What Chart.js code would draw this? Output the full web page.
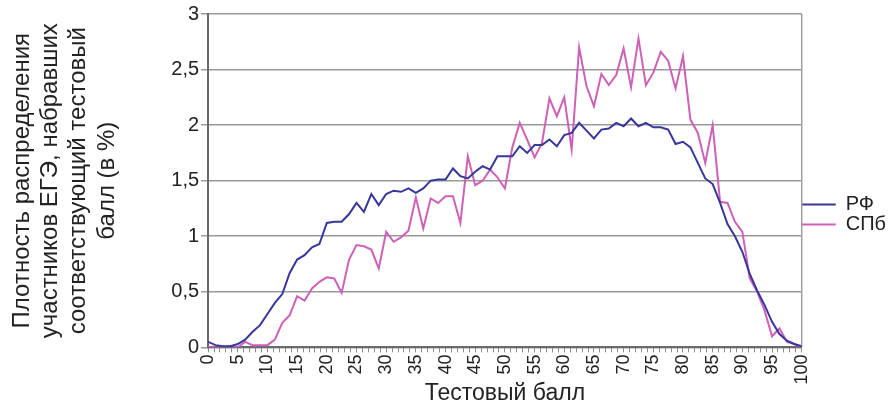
<!DOCTYPE html>
<html>
<head>
<meta charset="utf-8">
<script src="https://cdn.jsdelivr.net/npm/chart.js@4.4.1/dist/chart.umd.min.js"></script>
<style>
  body { margin: 0; background: #fff; }
  #wrap { width: 896px; height: 407px; }
</style>
</head>
<body>
<div id="wrap"><canvas id="densityChart"></canvas></div>
<script>
// test score positions (x) shared by both series
const scores = [0, 1.25, 2.5, 3.75, 5, 6.25, 7.5, 8.75, 10, 11.25, 12.5, 13.75, 15, 16.25, 17.5, 18.75,
    20, 21.25, 22.5, 23.75, 25, 26.25, 27.5, 28.75, 30, 31.25, 32.5, 33.75, 35, 36.25, 37.5, 38.75,
    40, 41.25, 42.5, 43.75, 45, 46.25, 47.5, 48.75, 50, 51.25, 52.5, 53.75, 55, 56.25, 57.5, 58.75,
    60, 61.25, 62.5, 63.75, 65, 66.25, 67.5, 68.75, 70, 71.25, 72.5, 73.75, 75, 76.25, 77.5, 78.75,
    80, 81.25, 82.5, 83.75, 85, 86.25, 87.5, 88.75, 90, 91.25, 92.5, 93.75, 95, 96.25, 97.5, 98.75, 100];

const rfValues = [0.05, 0.02, 0.01, 0.01, 0.03, 0.07, 0.14, 0.2, 0.3, 0.4,
    0.48, 0.67, 0.79, 0.83, 0.9, 0.93, 1.12, 1.13, 1.13, 1.2,
    1.3, 1.22, 1.38, 1.28, 1.38, 1.41, 1.4, 1.43, 1.39, 1.43,
    1.5, 1.51, 1.51, 1.61, 1.54, 1.52, 1.58, 1.63, 1.6, 1.72,
    1.72, 1.72, 1.81, 1.75, 1.82, 1.82, 1.87, 1.81, 1.91, 1.93,
    2.02, 1.95, 1.88, 1.96, 1.97, 2.02, 1.99, 2.06, 1.99, 2.02,
    1.98, 1.98, 1.96, 1.83, 1.85, 1.8, 1.66, 1.52, 1.47, 1.3,
    1.11, 1.0, 0.86, 0.66, 0.51, 0.38, 0.23, 0.12, 0.06, 0.03, 0.01];

const spbValues = [0, 0, 0, 0.01, 0, 0.05, 0.02, 0.02, 0.02, 0.07,
    0.22, 0.29, 0.46, 0.42, 0.53, 0.59, 0.63, 0.62, 0.49, 0.79,
    0.92, 0.91, 0.88, 0.71, 1.04, 0.95, 0.99, 1.05, 1.35, 1.07,
    1.34, 1.3, 1.36, 1.36, 1.12, 1.72, 1.46, 1.5, 1.6, 1.53,
    1.43, 1.8, 2.02, 1.87, 1.71, 1.84, 2.24, 2.08, 2.25, 1.78,
    2.7, 2.35, 2.17, 2.46, 2.36, 2.45, 2.69, 2.34, 2.78, 2.36,
    2.47, 2.66, 2.58, 2.33, 2.62, 2.05, 1.93, 1.66, 2.0, 1.31,
    1.3, 1.13, 1.04, 0.62, 0.5, 0.33, 0.1, 0.17, 0.05, 0.03, 0];

const seriesNames = ['РФ', 'СПб'];
const yTitle = ['Плотность распределения', 'участников ЕГЭ, набравших', 'соответствующий тестовый', 'балл (в %)'];
const xTitle = 'Тестовый балл';

const textColor = '#222';
const fontFamily = '"Liberation Sans", Arial, sans-serif';

// gray frame line on the right side of the plot
const plotBorder = {
    id: 'plotBorder',
    beforeDatasetsDraw(chart) {
        const { ctx, chartArea: a } = chart;
        ctx.save();
        ctx.strokeStyle = '#a0a0a0';
        ctx.lineWidth = 1.5;
        ctx.beginPath();
        ctx.moveTo(a.right, a.top);
        ctx.lineTo(a.right, a.bottom);
        ctx.stroke();
        ctx.restore();
    }
};

const ctx = document.getElementById('densityChart').getContext('2d');
const densityChart = new Chart(ctx, {
    type: 'line',
    data: {
        datasets: [{
            label: seriesNames[0],
            data: scores.map((s, i) => ({ x: s, y: rfValues[i] })),
            borderColor: '#37379b',
            backgroundColor: '#37379b',
            borderWidth: 2,
            pointRadius: 0,
            fill: false
        }, {
            label: seriesNames[1],
            data: scores.map((s, i) => ({ x: s, y: spbValues[i] })),
            borderColor: '#cf60b8',
            backgroundColor: '#cf60b8',
            borderWidth: 2,
            pointRadius: 0,
            fill: false
        }]
    },
    options: {
        responsive: true,
        maintainAspectRatio: false,
        animation: false,
        layout: {
            padding: { top: 7, right: 0, left: 8, bottom: 0 }
        },
        scales: {
            x: {
                type: 'linear',
                min: 0,
                max: 100,
                ticks: {
                    stepSize: 1,
                    autoSkip: false,
                    maxTicksLimit: 200,
                    minRotation: 90,
                    maxRotation: 90,
                    padding: 2,
                    color: textColor,
                    font: { family: fontFamily, size: 18 },
                    callback: v => (v % 5 === 0 ? v : '')
                },
                grid: {
                    drawOnChartArea: false,
                    tickLength: 5,
                    color: '#8a8a8a'
                },
                border: { color: '#6a6a6a', width: 2 },
                title: {
                    display: true,
                    text: xTitle,
                    color: textColor,
                    font: { family: fontFamily, size: 23 },
                    padding: { top: -7, bottom: 0 }
                }
            },
            y: {
                min: 0,
                max: 3,
                ticks: {
                    stepSize: 0.5,
                    padding: 2,
                    color: textColor,
                    font: { family: fontFamily, size: 20 },
                    callback: v => String(v).replace('.', ',')
                },
                grid: {
                    color: '#9a9a9a',
                    lineWidth: 1.5,
                    tickLength: 7
                },
                border: { color: '#6a6a6a', width: 2 },
                title: {
                    display: true,
                    text: yTitle,
                    color: textColor,
                    font: { family: fontFamily, size: 24, lineHeight: 1.18 },
                    padding: { top: 0, bottom: 48 }
                }
            }
        },
        plugins: {
            legend: {
                display: true,
                position: 'right',
                align: 'center',
                title: {
                    display: true,
                    text: '',
                    font: { size: 1, lineHeight: 1 },
                    padding: { top: 14, bottom: 0 }
                },
                labels: {
                    boxWidth: 34,
                    boxHeight: 2,
                    padding: 0,
                    color: textColor,
                    font: { family: fontFamily, size: 20, lineHeight: 0.8 },
                    generateLabels: chart => Chart.defaults.plugins.legend.labels.generateLabels(chart)
                        .map(item => ({ ...item, fillStyle: item.strokeStyle, lineWidth: 0 }))
                }
            },
            tooltip: { enabled: false }
        }
    },
    plugins: [plotBorder]
});
</script>
</body>
</html>
